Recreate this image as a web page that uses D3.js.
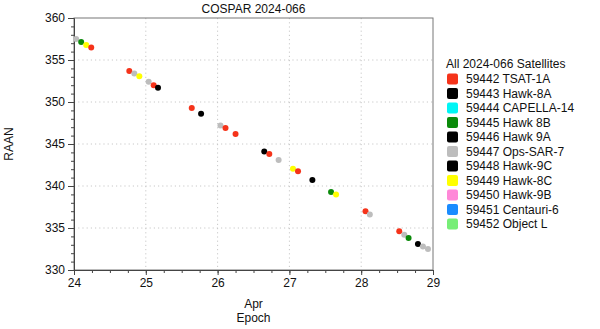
<!DOCTYPE html>
<html><head><meta charset="utf-8">
<script src="https://cdn.jsdelivr.net/npm/d3@7"></script>
<style>body{margin:0;background:#fff}svg{display:block;font-family:"Liberation Sans",Arial,sans-serif}</style>
</head><body><svg id="c" width="600" height="329"></svg>
<script>
const satNames = ["59442 TSAT-1A","59443 Hawk-8A","59444 CAPELLA-14","59445 Hawk 8B","59446 Hawk 9A","59447 Ops-SAR-7","59448 Hawk-9C","59449 Hawk-8C","59450 Hawk-9B","59451 Centauri-6","59452 Object L"];
const satColors = ["#f5331a","#000000","#00f5f5","#0a8a0a","#000000","#bdbdbd","#000000","#ffff00","#ff88d8","#1a8cff","#77ee77"];
// epoch (day of April 2024, fractional), RAAN (deg), satellite index
const epochDay = [24.03,24.10,24.17,24.24,24.77,24.84,24.91,25.04,25.11,25.17,25.64,25.77,26.04,26.11,26.25,26.65,26.72,26.85,27.05,27.12,27.32,27.58,27.65,28.06,28.12,28.53,28.60,28.66,28.79,28.86,28.93];
const raan =     [357.5,357.14,356.8,356.5,353.7,353.4,353.06,352.4,352.0,351.7,349.3,348.6,347.2,346.9,346.2,344.1,343.8,343.1,342.06,341.75,340.7,339.3,339.0,337.0,336.6,334.6,334.2,333.8,333.1,332.8,332.5];
const satIdx =   [5,3,7,0,0,5,7,5,0,1,0,4,5,0,0,6,0,5,7,0,1,3,7,0,5,0,5,3,4,5,5];
const xTicks = [24,25,26,27,28,29];
const yTicks = [330,335,340,345,350,355,360];
const title = "COSPAR 2024-066";
const legendTitle = "All 2024-066 Satellites";

const toDate = d => new Date(Date.UTC(2024,3,Math.floor(d)) + (d-Math.floor(d))*86400000);
const svg = d3.select("#c");
const L=74,R=433,T=18,B=270;
const x = d3.scaleUtc().domain([toDate(24),toDate(29)]).range([L,R]);
const y = d3.scaleLinear().domain([330,360]).range([B,T]);

// grid
const g = svg.append("g");
g.selectAll(".gx").data(xTicks.slice(1,-1)).join("line")
 .attr("x1",d=>x(toDate(d))).attr("x2",d=>x(toDate(d))).attr("y1",T).attr("y2",B)
 .attr("stroke","#c8c8c8").attr("stroke-dasharray","1.2,3");
g.selectAll(".gy").data(yTicks.slice(1,-1)).join("line")
 .attr("y1",d=>y(d)).attr("y2",d=>y(d)).attr("x1",L).attr("x2",R)
 .attr("stroke","#c8c8c8").attr("stroke-dasharray","1.2,3");

// frame
svg.append("rect").attr("x",L).attr("y",T).attr("width",R-L).attr("height",B-T)
 .attr("fill","none").attr("stroke","#777").attr("stroke-width",1);

// axes
const xMinor = d3.axisBottom(x).ticks(d3.utcHour.every(6)).tickSize(3).tickFormat("");
svg.append("g").attr("transform",`translate(0,${B})`).call(xMinor)
 .call(s=>{s.select(".domain").remove();s.selectAll("line").attr("stroke","#444");});
const xAxis = d3.axisBottom(x).tickValues(xTicks.map(toDate)).tickSize(5).tickPadding(3)
 .tickFormat(d3.utcFormat("%-d"));
svg.append("g").attr("transform",`translate(0,${B})`).call(xAxis)
 .call(s=>{s.select(".domain").attr("stroke","#444");s.selectAll("line").attr("stroke","#444");
   s.selectAll("text").attr("font-size",12).attr("fill","#111").attr("font-family","Liberation Sans, Arial, sans-serif");});
const yMinor = d3.axisLeft(y).ticks(30).tickSize(3).tickFormat("");
svg.append("g").attr("transform",`translate(${L},0)`).call(yMinor)
 .call(s=>{s.select(".domain").remove();s.selectAll("line").attr("stroke","#444");});
const yAxis = d3.axisLeft(y).tickValues(yTicks).tickSize(6).tickPadding(3);
svg.append("g").attr("transform",`translate(${L},0)`).call(yAxis)
 .call(s=>{s.select(".domain").attr("stroke","#444");s.selectAll("line").attr("stroke","#444");
   s.selectAll("text").attr("font-size",12).attr("fill","#111").attr("font-family","Liberation Sans, Arial, sans-serif");});

// points
svg.append("g").selectAll("circle").data(epochDay.map((d,i)=>({d,r:raan[i],s:satIdx[i]}))).join("circle")
 .attr("cx",p=>x(toDate(p.d))).attr("cy",p=>y(p.r)).attr("r",3)
 .attr("fill",p=>satColors[p.s]);

// labels
svg.append("text").attr("x",(L+R)/2).attr("y",13).attr("text-anchor","middle")
 .attr("font-size",12).attr("fill","#111").text(title);
svg.append("text").attr("x",(L+R)/2).attr("y",308).attr("text-anchor","middle")
 .attr("font-size",12).attr("fill","#111").text("Apr");
svg.append("text").attr("x",(L+R)/2).attr("y",322).attr("text-anchor","middle")
 .attr("font-size",12).attr("fill","#111").text("Epoch");
svg.append("text").attr("transform",`translate(13,${(T+B)/2}) rotate(-90)`).attr("text-anchor","middle")
 .attr("font-size",12).attr("fill","#111").text("RAAN");

// legend
const lg = svg.append("g");
lg.append("text").attr("x",446).attr("y",68).attr("font-size",12).attr("fill","#111").text(legendTitle);
const items = lg.selectAll(".it").data(satNames).join("g")
 .attr("transform",(d,i)=>`translate(447,${79+i*14.5})`);
items.append("rect").attr("x",0).attr("y",-5.5).attr("width",11).attr("height",11).attr("rx",2)
 .attr("fill",(d,i)=>satColors[i]);
items.append("text").attr("x",19).attr("y",4.3).attr("font-size",12).attr("fill","#111").text(d=>d);
</script></body></html>
